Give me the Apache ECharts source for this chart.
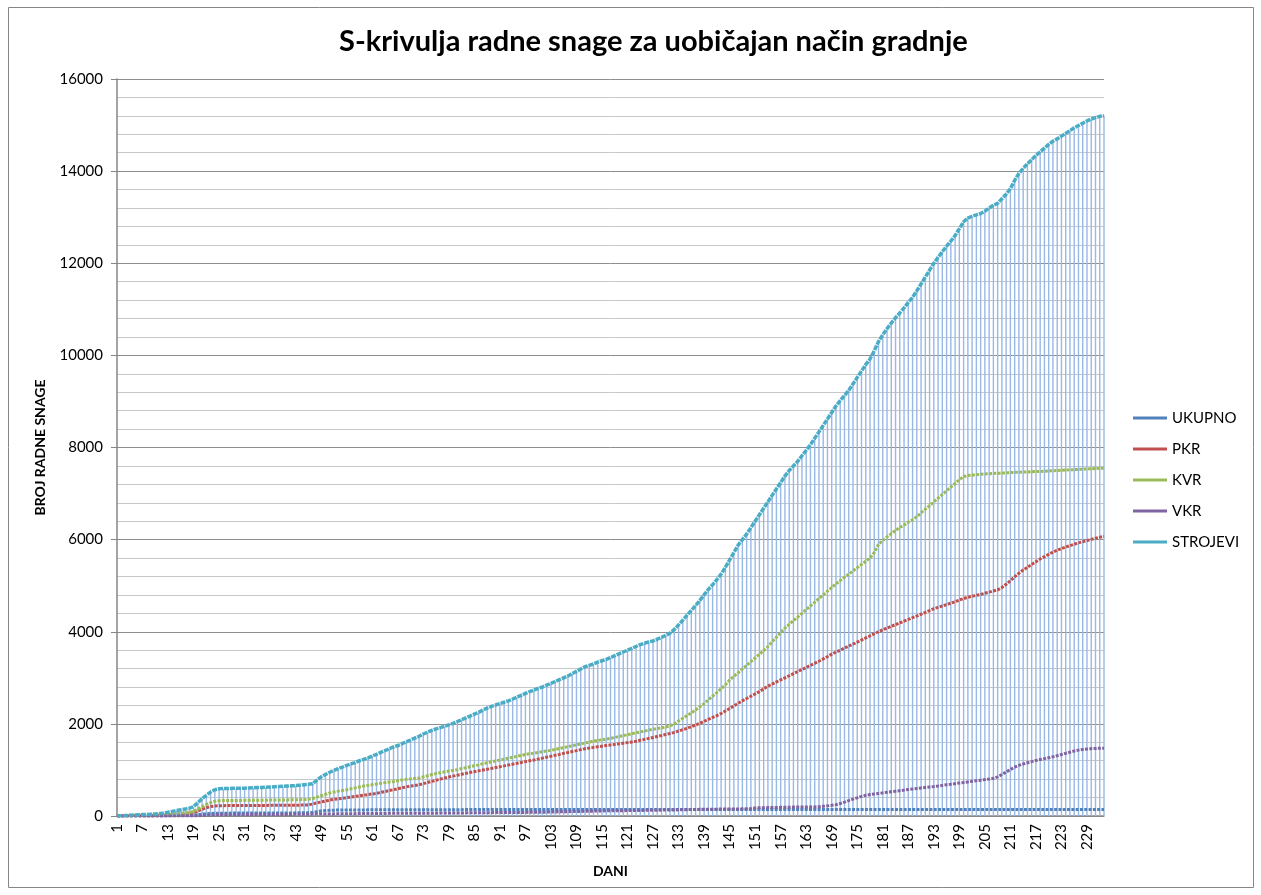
<!DOCTYPE html>
<html>
<head>
<meta charset="utf-8">
<title>S-krivulja radne snage</title>
<script src="https://cdn.jsdelivr.net/npm/echarts@6/dist/echarts.min.js"></script>
<style>
  html, body { margin: 0; padding: 0; background: #fff; }
  #chart { width: 1261px; height: 895px; }
</style>
</head>
<body>
<div id="chart"></div>
<script>
// Daily cumulative workforce per group, days 1..233
const ukupno = [
  0,0,0,0,0,0,0,0,0,0,0,0,
  5,8,10,12,15,18,20,
  30,40,50,55,60,62,
  62,62,63,63,63,64,64,64,65,65,65,66,66,66,67,67,67,68,68,69,70,
  80,95,110,118,124,127,130,
  130,131,131,132,132,132,133,133,133,134,
  134,134,135,135,135,135,136,136,136,136,
  137,137,137,137,138,138,138,138,138,139,
  139,139,139,139,140,140,140,140,140,140,
  140,140,140,140,140,140,140,140,140,140,
  140,140,140,140,140,140,140,140,140,140,
  140,140,140,140,140,140,140,140,140,140,
  140,140,140,140,140,140,140,140,140,140,
  140,140,140,140,140,140,140,140,140,140,
  140,140,140,140,140,140,140,140,140,140,
  140,140,140,140,140,140,140,140,140,140,
  140,140,140,140,140,140,140,140,140,140,
  140,140,140,140,140,140,140,140,140,140,
  140,140,140,140,140,140,140,140,140,140,
  140,140,140,140,140,140,140,140,140,140,
  140,140,140,140,140,140,140,140,140,140,
  140,140,140,140,140,140,140,140,140,140,
  140,140,140,140,140,140,140,140,140,140
];

const pkr = [
  0,1,2,3,4,5,6,7,8,9,10,12,
  20,28,36,44,52,60,75,
  110,145,180,205,218,224,
  225,226,226,227,227,228,228,229,229,230,230,231,231,232,232,233,234,235,236,237,239,
  260,285,305,325,345,360,372,
  384,398,411,425,438,452,465,478,
  492,512,532,552,572,592,612,632,652,662,
  678,702,727,751,776,800,825,845,865,885,905,925,945,962,980,998,1015,
  1033,1052,1070,1088,1107,1125,1143,1162,1180,1198,1216,
  1236,1256,1277,1297,1318,1338,1359,1379,1400,1420,1441,1461,1475,
  1490,1503,1516,1529,1542,1555,1568,1581,1594,1608,1622,
  1643,1664,1685,1706,1727,1748,1770,1790,
  1815,1845,1875,1905,1940,1975,2012,2055,2098,2140,2180,2225,
  2280,2335,2390,2445,2500,2550,2600,2650,2700,2760,2820,
  2865,2910,2955,3000,3045,3090,3135,3180,3225,3270,3315,3360,3410,3460,3515,3560,
  3600,3645,3690,3730,3775,3820,3865,3910,3955,4000,4045,
  4080,4118,4155,4192,4230,4267,4305,4342,4380,4420,4460,4500,
  4530,4560,4590,4620,4650,4690,4720,4750,
  4770,4790,4810,4835,4860,4885,4910,
  4960,5030,5110,5190,5270,5340,
  5400,5460,5520,5580,5630,5680,5730,
  5770,5805,5840,5870,5900,5930,5955,5980,6005,6030,6050,6070
];

const kvr = [
  0,2,4,6,8,10,12,14,16,18,20,22,
  30,40,50,60,70,80,100,
  150,200,250,290,320,333,
  335,337,338,338,339,340,340,341,342,343,344,345,346,347,348,350,352,354,356,358,362,
  380,410,440,470,500,520,540,
  555,570,590,610,630,650,665,
  680,695,710,725,740,750,765,780,795,805,815,825,850,875,
  900,920,940,960,975,990,1005,
  1030,1050,1070,1090,1110,1135,1155,
  1175,1195,1215,1235,1255,1275,1295,
  1315,1335,1350,1365,1380,1395,1410,
  1425,1445,1465,1485,1505,1525,1545,
  1565,1585,1605,1625,1640,1655,1670,
  1685,1705,1725,1745,1765,1785,1805,
  1825,1845,1865,1885,1900,1915,1935,1955,
  2000,2060,2120,2180,2240,2300,2370,
  2440,2520,2600,2680,2760,2850,2950,
  3030,3110,3190,3270,3350,3430,3510,
  3590,3680,3780,3880,3980,4080,4160,
  4240,4320,4400,4480,4560,4640,4720,
  4800,4880,4960,5040,5110,5180,5250,
  5320,5390,5460,5530,5600,5720,5900,
  5980,6060,6130,6200,6260,6320,6380,
  6430,6500,6580,6660,6740,6820,6900,
  6980,7060,7140,7220,7300,7370,7390,
  7400,7410,7420,7425,7430,7435,7440,
  7445,7450,7455,7460,7465,7468,7470,
  7475,7478,7480,7485,7490,7495,7500,
  7505,7510,7515,7520,7525,7530,7535,
  7540,7545,7548,7550
];

const vkr = [
  0,0,0,0,0,0,0,0,0,0,0,0,0,0,0,0,0,0,0,
  5,10,15,20,25,28,
  28,29,29,30,30,30,31,31,31,32,32,33,33,34,34,35,35,36,37,38,40,
  41,42,43,44,45,46,47,48,49,50,51,52,53,54,
  55,55,56,56,57,57,58,58,59,59,60,60,61,61,62,62,63,64,65,66,
  67,67,68,68,69,70,71,72,73,74,74,75,75,76,77,78,78,79,80,80,
  82,84,86,88,90,92,94,96,98,100,102,104,106,108,110,
  112,113,114,115,116,118,119,120,121,122,124,125,126,128,129,130,132,134,136,138,140,142,145,
  146,147,148,149,150,151,152,153,154,155,156,158,
  175,178,180,182,184,186,188,190,192,193,194,195,196,197,198,200,
  210,220,232,245,
  270,300,335,365,395,425,450,
  465,478,490,502,514,526,538,550,562,574,586,598,610,620,630,640,
  652,665,678,690,703,716,728,740,752,765,778,790,802,818,
  850,900,955,1010,1060,1100,1130,
  1155,1180,1205,1225,1245,1265,1285,
  1310,1335,1360,1385,1410,1430,
  1445,1455,1462,1466,1470,1472
];

const strojevi = [
  0,5,10,15,20,25,30,
  35,40,45,55,60,
  80,100,120,135,150,170,200,
  290,380,450,520,570,590,
  595,598,600,600,602,605,610,615,618,620,625,630,635,640,645,650,655,660,670,680,690,
  700,780,850,900,950,990,1030,
  1060,1100,1130,1160,1200,1230,1260,
  1300,1340,1380,1420,1460,1500,1530,
  1570,1610,1650,1690,1730,1780,1820,
  1860,1890,1920,1950,1980,2010,2050,
  2090,2130,2170,2210,2250,2300,2340,
  2380,2410,2440,2470,2500,2540,2580,
  2620,2660,2700,2735,2770,2800,2840,
  2880,2920,2960,3000,3040,3090,3140,
  3190,3240,3270,3300,3340,3370,3400,
  3440,3480,3520,3560,3600,3640,3680,
  3720,3750,3780,3800,3840,3880,3920,3970,
  4050,4150,4250,4360,4460,4570,4680,
  4800,4920,5020,5130,5250,5400,5560,
  5720,5880,6000,6120,6260,6400,6540,
  6680,6820,6960,7100,7240,7380,7500,
  7600,7700,7820,7940,8060,8200,8340,
  8480,8620,8760,8900,9020,9130,9240,
  9380,9520,9660,9800,9920,10100,10300,
  10450,10580,10700,10820,10920,11030,11150,
  11260,11400,11550,11700,11850,12000,12130,
  12250,12370,12480,12600,12750,12900,12980,
  13020,13050,13080,13130,13200,13260,13300,
  13400,13500,13620,13800,13950,14060,14160,
  14250,14340,14420,14500,14580,14650,14700,
  14760,14820,14880,14940,14990,15040,15090,
  15130,15160,15190,15200
];

// Day numbers along the category axis
const days = strojevi.map((_, i) => String(i + 1));

const seriesNames = ['UKUPNO', 'PKR', 'KVR', 'VKR', 'STROJEVI'];
const seriesColors = ['#4F81BD', '#C0504D', '#9BBB59', '#8064A2', '#4BACC6'];
const seriesData = [ukupno, pkr, kvr, vkr, strojevi];

const FONT = 'Lato, "Liberation Sans", sans-serif';

const chart = echarts.init(document.getElementById('chart'), null, { renderer: 'canvas' });

const lineSeries = seriesNames.map((name, i) => ({
  name: name,
  type: 'line',
  data: seriesData[i],
  symbol: 'none',
  smooth: false,
  z: 3 + i,
  animation: false,
  lineStyle: {
    color: seriesColors[i],
    width: name === 'STROJEVI' ? 3.5 : 3,
    type: name === 'STROJEVI' ? [5, 1] : [3, 1.3]
  },
  itemStyle: { color: seriesColors[i] }
}));

// Drop lines from the top curve down to the axis
const dropLines = {
  name: 'drop',
  type: 'bar',
  data: strojevi,
  barWidth: 1.4,
  silent: true,
  z: 2,
  animation: false,
  itemStyle: { color: '#98b8e6' }
};

chart.setOption({
  backgroundColor: '#ffffff',
  animation: false,
  title: {
    text: 'S-krivulja radne snage za uobičajan način gradnje',
    left: 334,
    top: 22,
    textStyle: { fontFamily: FONT, fontSize: 29, fontWeight: 'bold', color: '#000' }
  },
  legend: {
    data: seriesNames.map(n => ({ name: n, icon: 'rect' })),
    orient: 'vertical',
    left: 1133,
    top: 409,
    padding: 0,
    itemWidth: 34,
    itemHeight: 3,
    itemGap: 13,
    textStyle: { fontFamily: FONT, fontSize: 15, lineHeight: 18, color: '#000' }
  },
  grid: { left: 117, right: 157, top: 79, bottom: 79, containLabel: false },
  xAxis: {
    type: 'category',
    data: days,
    boundaryGap: false,
    name: 'DANI',
    nameLocation: 'middle',
    nameGap: 48,
    nameTextStyle: { fontFamily: FONT, fontSize: 14, fontWeight: 'bold', color: '#000' },
    axisLine: { lineStyle: { color: '#868686', width: 1.5 } },
    axisTick: { show: false },
    axisLabel: {
      interval: 5,
      rotate: 90,
      margin: 8,
      fontFamily: FONT,
      fontSize: 15,
      color: '#000'
    },
    splitLine: { show: false }
  },
  yAxis: {
    type: 'value',
    min: 0,
    max: 16000,
    interval: 2000,
    name: 'BROJ RADNE SNAGE',
    nameLocation: 'middle',
    nameRotate: 90,
    nameGap: 70,
    nameTextStyle: { fontFamily: FONT, fontSize: 14, fontWeight: 'bold', color: '#000' },
    axisLine: { show: true, lineStyle: { color: '#868686', width: 1.5 } },
    axisTick: { show: true, length: 6, lineStyle: { color: '#868686' } },
    axisLabel: {
      margin: 14,
      fontFamily: FONT,
      fontSize: 15,
      color: '#000',
      formatter: v => String(v)
    },
    splitLine: { show: true, lineStyle: { color: '#8e8e8e', width: 1 } },
    minorTick: { show: false, splitNumber: 5 },
    minorSplitLine: { show: true, lineStyle: { color: '#c8c8c8', width: 1 } }
  },
  graphic: [{
    type: 'rect',
    shape: { x: 8.5, y: 7.5, width: 1245, height: 880 },
    style: { fill: 'none', stroke: '#868686', lineWidth: 1 },
    silent: true,
    z: -1
  }],
  series: [dropLines].concat(lineSeries)
});
</script>
</body>
</html>
